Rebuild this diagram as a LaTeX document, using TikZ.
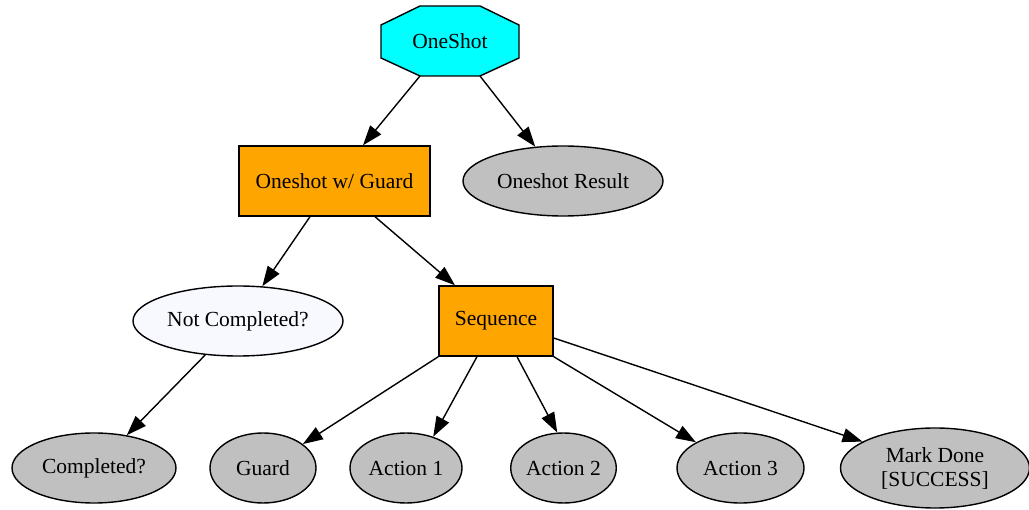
\documentclass[tikz,border=0pt]{standalone}
\usepackage{fontspec}
\setmainfont{Liberation Serif}
\usetikzlibrary{shapes.geometric,arrows.meta}
\definecolor{gvcyan}{HTML}{00FFFF}
\definecolor{gvorange}{HTML}{FFA500}
\definecolor{gvgray}{HTML}{C0C0C0}
\definecolor{gvghost}{HTML}{F8F8FF}
\begin{document}
\begin{tikzpicture}[x=1pt,y=-1pt,
  every node/.style={font=\fontsize{21.5}{24}\selectfont, align=center, inner sep=0pt, line width=1.4pt},
  boxnode/.style={draw, rectangle, fill=gvorange},
  ellnode/.style={draw, ellipse, fill=gvgray, minimum height=70pt},
  edge/.style={line width=1.4pt, -{Triangle[length=20pt,width=14pt]}}]
\useasboundingbox (0,0) rectangle (1029,510);
% OneShot octagon
\draw[line width=1.4pt, fill=gvcyan] (420,6) -- (480,6) -- (519,25) -- (519,58) -- (480,76) -- (420,76) -- (381,58) -- (381,25) -- cycle;
\node[rectangle, minimum width=138pt, minimum height=70pt] (oneshot) at (450,41) {OneShot};
\coordinate (osbl) at (420,76);
\coordinate (osbr) at (480,76);
\node[boxnode, minimum width=191pt, minimum height=70pt] (guardbox) at (334.5,181) {Oneshot w/ Guard};
\node[ellnode, minimum width=200pt] (result) at (563,181) {Oneshot Result};
\node[ellnode, fill=gvghost, minimum width=210pt] (notcomp) at (238,321) {Not Completed?};
\node[boxnode, minimum width=114pt, minimum height=70pt] (seq) at (496,321) {Sequence};
\node[ellnode, minimum width=164pt] (comp) at (94,468) {Completed?};
\node[ellnode, minimum width=106pt] (guard) at (263,468) {Guard};
\node[ellnode, minimum width=112pt] (act1) at (406,468) {Action 1};
\node[ellnode, minimum width=101pt] (act2) at (563.5,468) {Action 2};
\node[ellnode, minimum width=127pt] (act3) at (740.5,468) {Action 3};
\node[ellnode, minimum width=189pt, minimum height=80pt] (done) at (935,468) {Mark Done\\{}[SUCCESS]};
\draw[edge] (osbl) -- ([xshift=28.5pt]guardbox.north);
\draw[edge] (osbr) -- (result.129);
\draw[edge] ([xshift=-24.5pt]guardbox.south) -- (notcomp.55);
\draw[edge] ([xshift=40.5pt]guardbox.south) -- ([xshift=-41pt]seq.north);
\draw[edge] (notcomp.226) -- (comp.45);
\draw[edge] (seq.south west) -- (guard.31);
\draw[edge] ([xshift=-19pt]seq.south) -- (act1.49);
\draw[edge] ([xshift=21pt]seq.south) -- (act2.100);
\draw[edge] (seq.south east) -- (act3.150);
\draw[edge] ([yshift=-17pt]seq.east) -- (done.160);
\end{tikzpicture}
\end{document}
